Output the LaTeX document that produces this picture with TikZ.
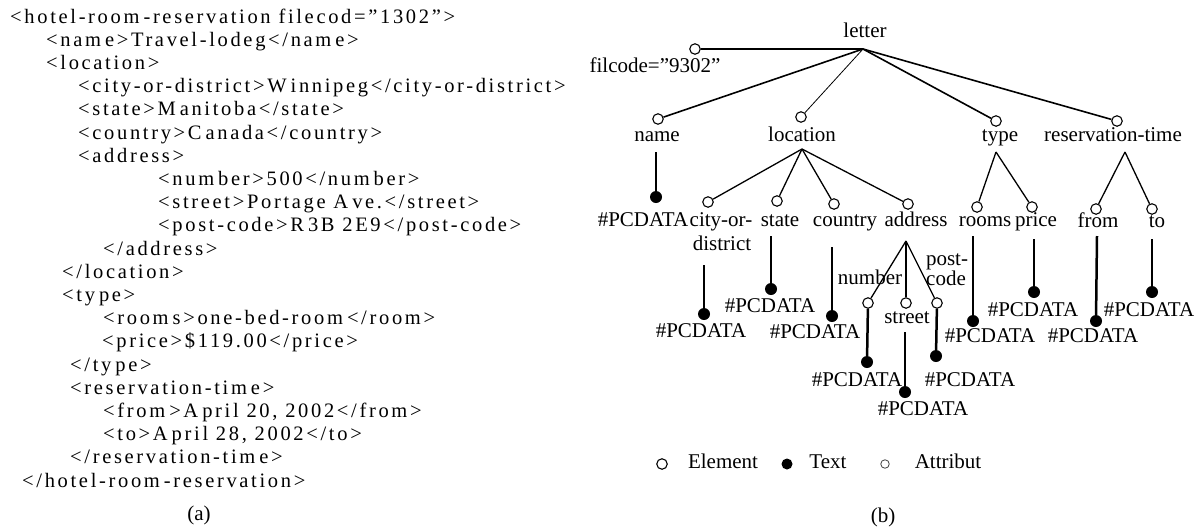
\documentclass[tikz,border=0pt]{standalone}
\usepackage{fontspec}
\setmainfont{Liberation Serif}
\newfontfamily\codefont[LetterSpace=13]{Liberation Serif}
\newcommand{\xg}{\kern4pt}
\begin{document}
\begin{tikzpicture}[x=1pt,y=-1pt,
  code/.style={anchor=west, inner sep=0pt, font=\codefont\fontsize{20.5}{23}\selectfont, text height=14pt, text depth=4pt},
  lbl/.style={inner sep=0pt, font=\fontsize{21}{24}\selectfont, text height=14pt, text depth=4.5pt},
  elem/.style={circle, draw, line width=1.1pt, minimum size=10.5pt, inner sep=0pt, fill=white},
  attr/.style={circle, draw, line width=1.1pt, minimum size=10.5pt, inner sep=0pt, fill=white},
  txt/.style={circle, fill=black, minimum size=12pt, inner sep=0pt},
  lnk/.style={line width=1.6pt},
  thinlnk/.style={line width=0.8pt},
  kid/.style={line width=1.3pt},
  stem/.style={line width=2.5pt},
]
\useasboundingbox (0,0) rectangle (1203,531);

% ---------------- (a) XML listing ----------------
\node[code] (c1)  at (10,18)    {<hotel-room\xg-reservation filecod=”1302”>};
\node[code] (c2)  at (46,41.2)  {<nam\xg e>Travel-lodeg</nam\xg e>};
\node[code] (c3)  at (46,64.4)  {<location>};
\node[code] (c4)  at (78,87.6)  {<city-or-district>W\xg innipeg</city-or-district>};
\node[code] (c5)  at (78,110.8) {<state>M\xg anitoba</state>};
\node[code] (c6)  at (78,134)   {<country>C\xg anada</country>};
\node[code] (c7)  at (78,157.2) {<address>};
\node[code] (c8)  at (158,180.4) {<num\xg ber>500</num\xg ber>};
\node[code] (c9)  at (158,203.6) {<street>Portage A\xg ve.</street>};
\node[code] (c10) at (158,226.8) {<post-code>R\xg 3B 2E9</post-code>};
\node[code] (c11) at (103,250)  {</address>};
\node[code] (c12) at (62,273.2) {</location>};
\node[code] (c13) at (62,296.4) {<ty\xg pe>};
\node[code] (c14) at (103,319.6) {<room\xg s>one-bed-room\xg </room>};
\node[code] (c15) at (102,342.8) {<price>\$119.00</price>};
\node[code] (c16) at (70,366)   {</ty\xg pe>};
\node[code] (c17) at (70,389.2) {<reservation-tim\xg e>};
\node[code] (c18) at (103,412.4) {<from\xg >A\xg pril 20, 2002</from>};
\node[code] (c19) at (103,435.6) {<to>A\xg pril 28, 2002</to>};
\node[code] (c20) at (70,458.8) {</reservation-tim\xg e>};
\node[code] (c21) at (22,482)   {</hotel-room\xg -reservation>};
\node[lbl] (capa) at (199,516) {(a)};

% ---------------- (b) tree ----------------
\node[lbl] (letter) at (865,33) {letter};
\coordinate (jL) at (863,49);
\node[attr] (fc) at (695,49) {};
\node[lbl] (fcl) at (655,68) {filcode=”9302”};
\node[elem] (nameC) at (658,119) {};
\node[lbl] (nameL) at (657,137) {name};
\node[elem] (locC) at (801,117) {};
\node[lbl] (locL) at (802,137) {location};
\node[elem] (typeC) at (996,121) {};
\node[lbl] (typeL) at (1000,137) {type};
\node[elem] (resC) at (1117,121) {};
\node[lbl] (resL) at (1113,137) {reservation-time};

\draw[lnk] (fc) -- (jL);
\draw[lnk] (jL) -- (nameC);
\draw[thinlnk] (jL) -- (locC);
\draw[lnk] (jL) -- (typeC);
\draw[lnk] (jL) -- (resC);

% name
\coordinate (nameS) at (656,152);
\node[txt] (nameD) at (656,197) {};
\node[lbl] (nameT) at (643,222) {\#PCDATA};
\draw[stem] (nameS) -- (nameD);

% location
\coordinate (jLoc) at (802,149);
\node[elem] (cityC) at (708,202) {};
\node[elem] (stateC) at (777,201) {};
\node[elem] (countryC) at (834,204) {};
\node[elem] (addrC) at (908,204) {};
\draw[kid] (jLoc) -- (cityC);
\draw[kid] (jLoc) -- (stateC);
\draw[kid] (jLoc) -- (countryC);
\draw[kid] (jLoc) -- (addrC);
\node[lbl] (cityL) at (721,222) {city-or-};
\node[lbl] (cityL2) at (722,246) {district};
\node[lbl] (stateL) at (780,222) {state};
\node[lbl] (countryL) at (845,222) {country};
\node[lbl] (addrL) at (916,222) {address};

\coordinate (cityS) at (704,265);
\node[txt] (cityD) at (704,314) {};
\node[lbl] (cityT) at (701,333) {\#PCDATA};
\draw[stem] (cityS) -- (cityD);

\coordinate (stateS) at (771,236);
\node[txt] (stateD) at (771,289) {};
\node[lbl] (stateT) at (770,308) {\#PCDATA};
\draw[stem] (stateS) -- (stateD);

\coordinate (countryS) at (832,247);
\node[txt] (countryD) at (832,316) {};
\node[lbl] (countryT) at (815,334) {\#PCDATA};
\draw[stem] (countryS) -- (countryD);

% address
\coordinate (jAd) at (906,241);
\node[elem] (numC) at (868,303) {};
\node[elem] (strC) at (906,303) {};
\node[elem] (postC) at (937,303) {};
\draw[kid] (jAd) -- (numC);
\draw[kid] (jAd) -- (strC);
\draw[kid] (jAd) -- (postC);
\node[lbl] (numL) at (870,280) {number};
\node[lbl] (strL) at (907,319) {street};
\node[lbl] (postL) at (947,261) {post-};
\node[lbl] (postL2) at (946,281) {code};

\node[txt] (numD) at (867,362) {};
\node[lbl] (numT) at (857,382) {\#PCDATA};
\draw[stem] (numC) -- (numD);

\coordinate (strS) at (905,332);
\node[txt] (strD) at (905,392) {};
\node[lbl] (strT) at (923,411) {\#PCDATA};
\draw[stem] (strS) -- (strD);

\node[txt] (postD) at (936,356) {};
\node[lbl] (postT) at (970,382) {\#PCDATA};
\draw[stem] (postC) -- (postD);

% type
\coordinate (jT) at (996,152);
\node[elem] (roomsC) at (977,207) {};
\node[elem] (priceC) at (1032,207) {};
\draw[kid] (jT) -- (roomsC);
\draw[kid] (jT) -- (priceC);
\node[lbl] (roomsL) at (985,222) {rooms};
\node[lbl] (priceL) at (1036,222) {price};

\coordinate (roomsS) at (973,236);
\node[txt] (roomsD) at (973,321) {};
\node[lbl] (roomsT) at (990,338) {\#PCDATA};
\draw[stem] (roomsS) -- (roomsD);

\coordinate (priceS) at (1034,239);
\node[txt] (priceD) at (1034,292) {};
\node[lbl] (priceT) at (1033,312) {\#PCDATA};
\draw[stem] (priceS) -- (priceD);

% reservation-time
\coordinate (jR) at (1125,152);
\node[elem] (fromC) at (1096,209) {};
\node[elem] (toC) at (1152,209) {};
\draw[kid] (jR) -- (fromC);
\draw[kid] (jR) -- (toC);
\node[lbl] (fromL) at (1098,223) {from};
\node[lbl] (toL) at (1157,223) {to};

\coordinate (fromS) at (1097,236);
\node[txt] (fromD) at (1096,321) {};
\node[lbl] (fromT) at (1093,338) {\#PCDATA};
\draw[stem] (fromS) -- (fromD);

\coordinate (toS) at (1152,239);
\node[txt] (toD) at (1152,292) {};
\node[lbl] (toT) at (1149,312) {\#PCDATA};
\draw[stem] (toS) -- (toD);

% legend
\node[elem] (legE) at (662,464) {};
\node[lbl] (legEL) at (723,464) {Element};
\node[txt, minimum size=11pt] (legT) at (787,464) {};
\node[lbl] (legTL) at (828,464) {Text};
\node[circle, draw=black!75, line width=0.8pt, minimum size=8.5pt, inner sep=0pt] (legA) at (885,464) {};
\node[lbl] (legAL) at (948,464) {Attribut};
\node[lbl] (capb) at (883,518) {(b)};
\end{tikzpicture}
\end{document}
